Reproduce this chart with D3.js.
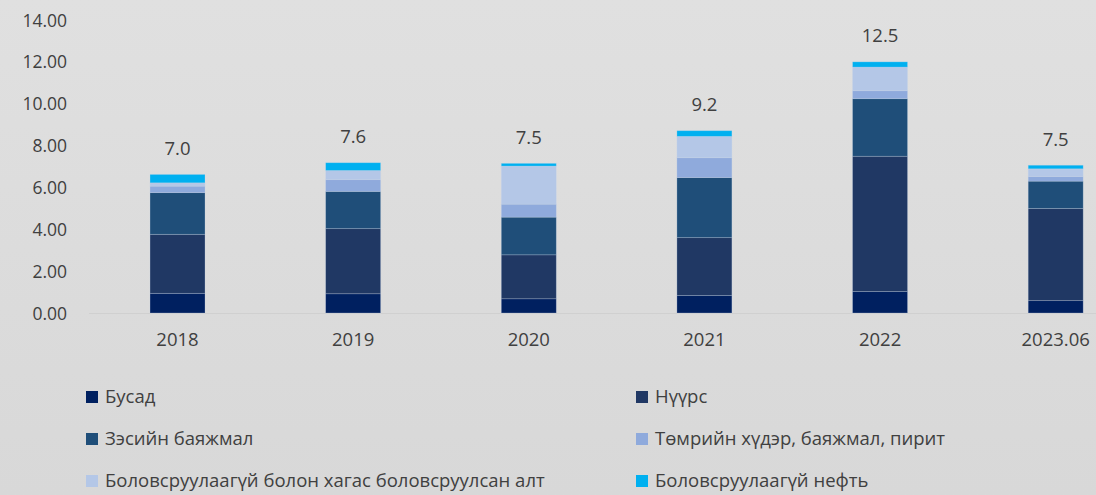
<!DOCTYPE html>
<html><head><meta charset="utf-8">
<script src="https://cdn.jsdelivr.net/npm/d3@7"></script>
<style>
html,body{margin:0;padding:0;background:#d9d9d9;}
svg{display:block;font-family:"Open Sans","Noto Sans",sans-serif;}
</style></head>
<body>
<svg id="c" width="1096" height="495"></svg>
<script>
const categories = ["2018","2019","2020","2021","2022","2023.06"];
const seriesNames = ["Бусад","Нүүрс","Зэсийн баяжмал","Төмрийн хүдэр, баяжмал, пирит","Боловсруулаагүй болон хагас боловсруулсан алт","Боловсруулаагүй нефть"];
const busad  = [0.94, 0.92, 0.68, 0.84, 1.03, 0.59];
const nuurs  = [2.82, 3.11, 2.10, 2.76, 6.46, 4.41];
const zes    = [1.99, 1.78, 1.80, 2.87, 2.75, 1.30];
const tumur  = [0.31, 0.56, 0.62, 0.95, 0.38, 0.22];
const alt    = [0.16, 0.44, 1.82, 1.02, 1.13, 0.37];
const neft   = [0.40, 0.37, 0.13, 0.27, 0.25, 0.17];
const totalLabels = ["7.0","7.6","7.5","9.2","12.5","7.5"];
const yTicks = [0,2,4,6,8,10,12,14];
const colors = ["#002060","#203864","#1f4e79","#8faadc","#b4c7e7","#00b0f0"];

const seriesValues = [busad, nuurs, zes, tumur, alt, neft];
const rows = categories.map((c,i)=>{
  const r = {cat:c};
  seriesNames.forEach((s,j)=>{ r[s]=seriesValues[j][i]; });
  return r;
});

const svg = d3.select("#c");
const defs = svg.append("defs");
const g = defs.append("linearGradient").attr("id","bg").attr("x1",0).attr("y1",0).attr("x2",0).attr("y2",1);
g.append("stop").attr("offset","0%").attr("stop-color","#e0e0e0");
g.append("stop").attr("offset","100%").attr("stop-color","#d8d8d8");
svg.append("rect").attr("width",1096).attr("height",495).attr("fill","url(#bg)");

const x = d3.scaleBand().domain(categories).range([89.7,1143.5]).paddingInner(0.687).paddingOuter(0.3435);
const y = d3.scaleLinear().domain([0,14]).range([313,20]);

// baseline
svg.append("line").attr("x1",89).attr("x2",1096).attr("y1",y(0)+0.5).attr("y2",y(0)+0.5)
  .attr("stroke","#d0d0d0").attr("stroke-width",1);

// y axis
const yAxis = d3.axisLeft(y).tickValues(yTicks).tickFormat(d3.format(".2f")).tickSize(0).tickPadding(0);
const ya = svg.append("g").attr("transform","translate(67,0)").call(yAxis);
ya.select(".domain").remove();
ya.selectAll("text").attr("font-size",17.5).attr("fill","#404040").attr("font-family","Open Sans, sans-serif").attr("dy","0.35em");

// x axis
const xAxis = d3.axisBottom(x).tickSize(0).tickPadding(0);
const xa = svg.append("g").attr("transform","translate(0,333)").call(xAxis);
xa.select(".domain").remove();
xa.selectAll("text").attr("font-size",18.5).attr("fill","#404040").attr("font-family","Open Sans, sans-serif");

// stacked bars
const stack = d3.stack().keys(seriesNames)(rows);
svg.append("g").selectAll("g").data(stack).join("g")
  .attr("fill",(d,i)=>colors[i])
  .selectAll("rect").data(d=>d).join("rect")
  .attr("x",d=>x(d.data.cat))
  .attr("width",x.bandwidth())
  .attr("y",d=>y(d[1]))
  .attr("height",d=>y(d[0])-y(d[1]))
  .attr("stroke","rgba(200,215,235,0.35)")
  .attr("stroke-width",0.75);

// total labels
const tops = categories.map((c,i)=>d3.sum(seriesValues,s=>s[i]));
svg.append("g").selectAll("text").data(categories).join("text")
  .attr("x",d=>x(d)+x.bandwidth()/2)
  .attr("y",(d,i)=>y(tops[i])-26)
  .attr("text-anchor","middle").attr("dy","0.35em")
  .attr("font-size",18.5).attr("fill","#404040")
  .text((d,i)=>totalLabels[i]);

// legend
const legX = [86, 636], legY = [397, 439, 481];
const leg = svg.append("g").selectAll("g").data(seriesNames).join("g")
  .attr("transform",(d,i)=>`translate(${legX[i%2]},${legY[Math.floor(i/2)]})`);
leg.append("rect").attr("x",0).attr("y",-6).attr("width",12).attr("height",12).attr("fill",(d,i)=>colors[i]);
leg.append("text").attr("x",19).attr("dy","0.35em").attr("font-size",18.5).attr("fill","#404040").text(d=>d);
</script>
</body></html>
